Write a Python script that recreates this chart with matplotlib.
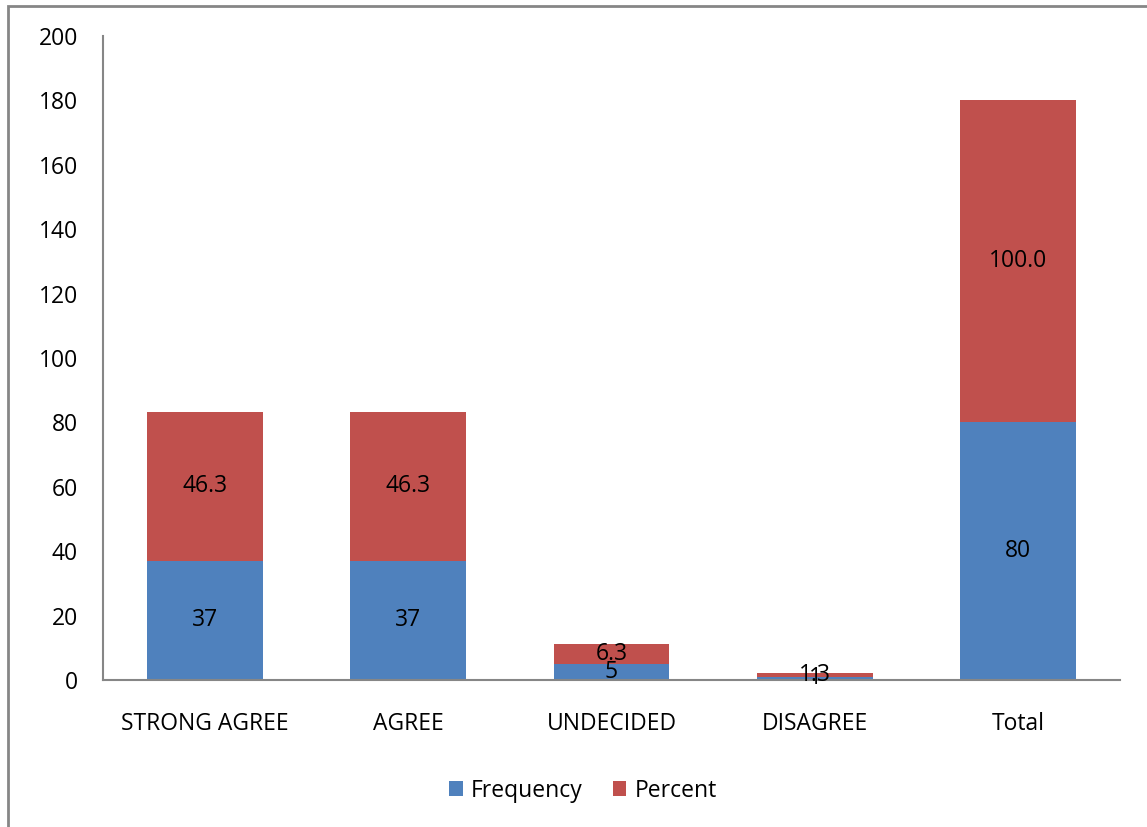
import matplotlib.pyplot as plt
import numpy as np
from matplotlib.patches import Rectangle

plt.rcParams['font.family'] = ['Open Sans', 'DejaVu Sans']

categories = ['STRONG AGREE', 'AGREE', 'UNDECIDED', 'DISAGREE', 'Total']
frequency = [37, 37, 5, 1, 80]
percent = [46.3, 46.3, 6.3, 1.3, 100.0]
freq_labels = ['37', '37', '5', '1', '80']
pct_labels = ['46.3', '46.3', '6.3', '1.3', '100.0']

blue = '#4F81BD'
red = '#C0504D'
fs = 16.5

fig = plt.figure(figsize=(11.47, 8.27), dpi=100)
ax = fig.add_axes([0.0898, 0.1778, 0.8867, 0.7787])

x = np.arange(len(categories))
w = 0.57
ax.bar(x, frequency, w, color=blue, label='Frequency')
ax.bar(x, percent, w, bottom=frequency, color=red, label='Percent')

# value labels centred in each segment
for i in range(len(categories)):
    ax.text(x[i], frequency[i] / 2, freq_labels[i], ha='center', va='center', fontsize=fs)
    ax.text(x[i], frequency[i] + percent[i] / 2, pct_labels[i], ha='center', va='center', fontsize=fs)

ax.set_xlim(-0.5, 4.5)
ax.set_ylim(0, 200)
ax.set_yticks(range(0, 201, 20))
ax.set_xticks(x)
ax.set_xticklabels(categories)
ax.tick_params(axis='both', length=0, labelsize=fs)
ax.tick_params(axis='y', pad=18)
ax.tick_params(axis='x', pad=23)
for side in ['top', 'right']:
    ax.spines[side].set_visible(False)
for side in ['left', 'bottom']:
    ax.spines[side].set_color('#868686')
    ax.spines[side].set_linewidth(1.5)

ax.legend(loc='center', bbox_to_anchor=(0.472, -0.172), ncol=2, frameon=False,
          fontsize=fs, handlelength=0.6, handleheight=0.6, handletextpad=0.35,
          columnspacing=1.3)

# outer chart border, running past the right and bottom edges
fig.patches.append(Rectangle((8 / 1147, -0.05), 1.2, 1 - 6 / 827 + 0.05,
                             transform=fig.transFigure, fill=False,
                             edgecolor='#868686', linewidth=2))

fig.savefig('out.png', dpi=100)
